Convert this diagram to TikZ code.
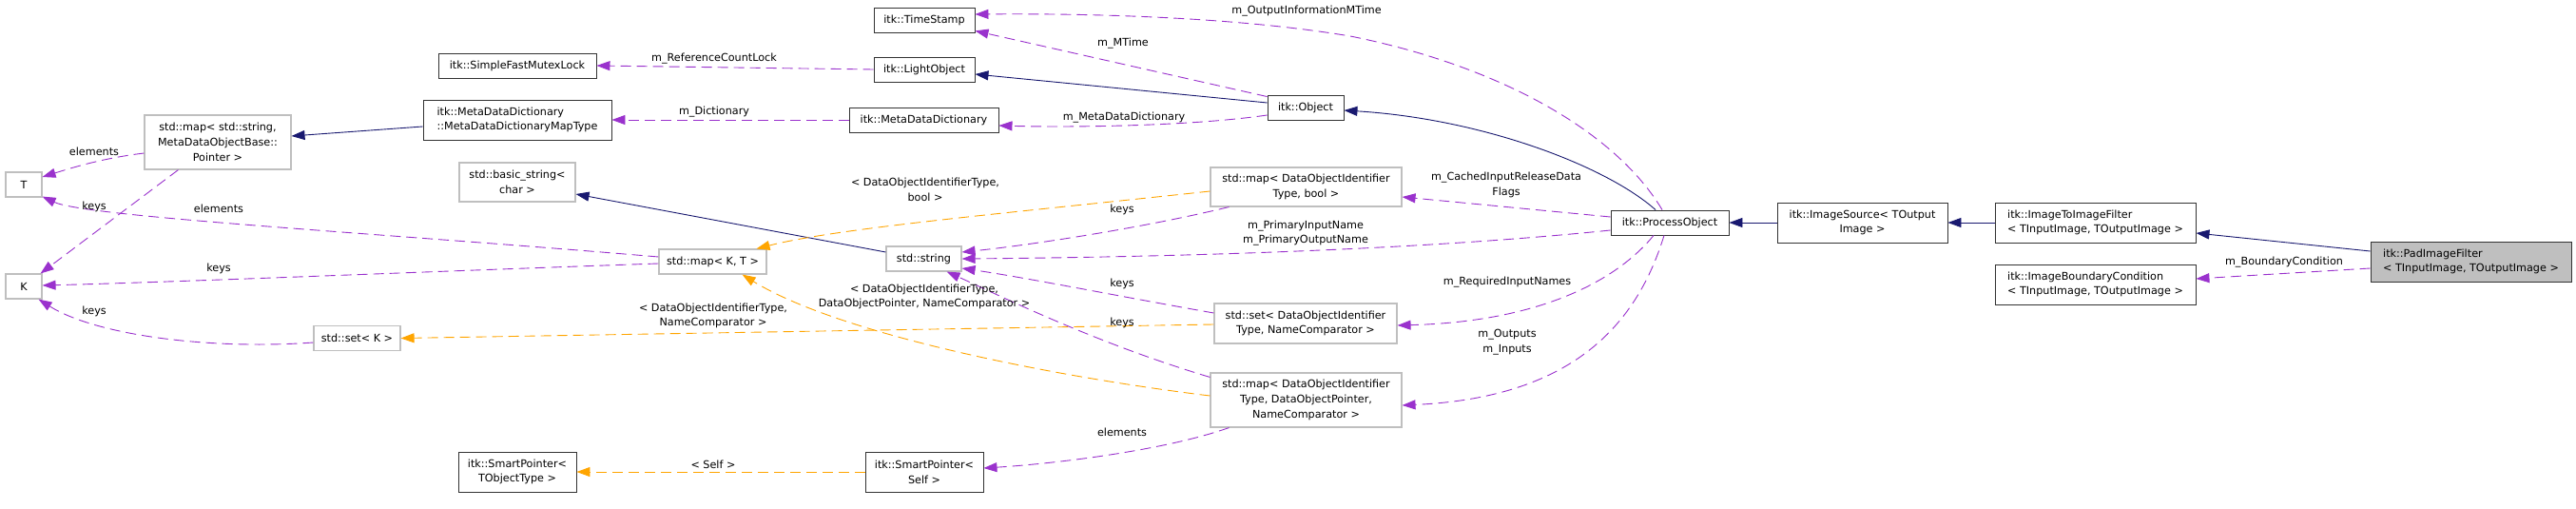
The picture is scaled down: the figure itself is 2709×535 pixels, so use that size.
\documentclass[tikz,border=0pt]{standalone}
\usepackage{fontspec}
\setmainfont{DejaVu Sans}
\usetikzlibrary{arrows.meta,calc}
\definecolor{navy}{HTML}{191970}
\definecolor{purp}{HTML}{9A32CD}
\definecolor{orng}{HTML}{FFA500}
\definecolor{lgray}{HTML}{BFBFBF}
\definecolor{fgray}{HTML}{BFBFBF}
\definecolor{bord}{HTML}{333333}
\begin{document}
\begin{tikzpicture}[x=1pt,y=-1pt,
  every node/.style={font=\fontsize{11.2}{15.7}\selectfont},
  cls/.style={draw=bord,line width=0.9pt,rectangle,inner sep=0pt,align=center},
  ext/.style={cls,draw=lgray,line width=1.1pt},
  lbl/.style={inner sep=0pt,align=center},
  tip/.style={-{Triangle[length=14pt,width=10pt]}},
  inh/.style={draw=navy,line width=0.9pt,tip},
  dep/.style={draw=purp,line width=0.9pt,dash pattern=on 11pt off 6pt,tip},
  tpl/.style={draw=orng,line width=0.9pt,dash pattern=on 11pt off 6pt,tip}
]
\useasboundingbox (0,0) rectangle (2709,535);
\fill[white] (0,0) rectangle (2709,535);

% nodes
\node[ext,minimum width=38,minimum height=26] (T) at (25,194) {T};
\node[ext,minimum width=38,minimum height=26] (K) at (25,301) {K};
\node[ext,minimum width=154,minimum height=57] (mapstr) at (229,149.5) {std::map< std::string,\\MetaDataObjectBase::\\Pointer >};
\node[ext,minimum width=91,minimum height=26] (setK) at (375.5,355.5) {std::set< K >};
\node[cls,minimum width=166,minimum height=26] (SFML) at (544,69) {itk::SimpleFastMutexLock};
\node[cls,minimum width=198,minimum height=42,align=left] (MDDMT) at (544,126) {itk::MetaDataDictionary\\::MetaDataDictionaryMapType};
\node[ext,minimum width=122,minimum height=41] (basicstr) at (544,191.5) {std::basic\_string<\\char >};
\node[ext,minimum width=113,minimum height=26] (mapKT) at (749.5,275) {std::map< K, T >};
\node[cls,minimum width=124,minimum height=42] (SPTOT) at (544,496) {itk::SmartPointer<\\TObjectType >};
\node[cls,minimum width=106,minimum height=26] (TS) at (972,21) {itk::TimeStamp};
\node[cls,minimum width=106,minimum height=26] (LO) at (972,73) {itk::LightObject};
\node[cls,minimum width=157,minimum height=26] (MDD) at (971.5,126) {itk::MetaDataDictionary};
\node[ext,minimum width=79,minimum height=26] (stdstring) at (971.5,272) {std::string};
\node[cls,minimum width=124,minimum height=42] (SPSelf) at (972,496) {itk::SmartPointer<\\Self >};
\node[ext,minimum width=201,minimum height=41] (mapbool) at (1373.5,196.5) {std::map< DataObjectIdentifier\\Type, bool >};
\node[ext,minimum width=192,minimum height=42] (setDOI) at (1373,340) {std::set< DataObjectIdentifier\\Type, NameComparator >};
\node[ext,minimum width=201,minimum height=57] (map3) at (1373.5,420.5) {std::map< DataObjectIdentifier\\Type, DataObjectPointer,\\NameComparator >};
\node[cls,minimum width=80,minimum height=26] (Obj) at (1373,113) {itk::Object};
\node[cls,minimum width=124,minimum height=26] (PO) at (1756,234) {itk::ProcessObject};
\node[cls,minimum width=179,minimum height=42] (IS) at (1958.5,234) {itk::ImageSource< TOutput\\Image >};
\node[cls,minimum width=211,minimum height=42,align=left] (ITIF) at (2203.5,234) {itk::ImageToImageFilter\\< TInputImage, TOutputImage >};
\node[cls,minimum width=211,minimum height=42,align=left] (IBC) at (2203.5,299) {itk::ImageBoundaryCondition\\< TInputImage, TOutputImage >};
\node[cls,fill=fgray,minimum width=211,minimum height=42,align=left] (PIF) at (2598.5,275) {itk::PadImageFilter\\< TInputImage, TOutputImage >};

% edges
\draw[dep] ($(mapstr.west)+(0,11.5)$) .. controls (110,166) and (80,175) .. ($(T.east)+(0,-8)$);
\draw[dep] ($(mapstr.south west)+(36,0)$) -- ($(K.north east)+(-2,0)$);
\draw[dep] ($(mapKT.west)+(0,-5)$) .. controls (400,245) and (90,228) .. ($(T.south east)+(0,-1)$);
\draw[dep] ($(mapKT.west)+(0,2)$) .. controls (460,285) and (200,296) .. ($(K.east)+(0,-1)$);
\draw[dep] ($(setK.west)+(0,4.5)$) .. controls (220,368) and (100,352) .. ($(K.south east)+(-4,0)$);
\draw[inh] ($(MDDMT.west)+(0,7)$) -- ($(mapstr.east)+(0,-6.5)$);
\draw[dep] (LO.west) -- (SFML.east);
\draw[dep] (MDD.west) -- (MDDMT.east);
\draw[inh] ($(stdstring.west)+(0,-7)$) -- ($(basicstr.east)+(0,12.5)$);
\draw[tpl] ($(mapbool.west)+(0,4.5)$) .. controls (1050,225) and (880,240) .. ($(mapKT.north east)+(-11,0)$);
\draw[tpl] ($(setDOI.west)+(0,1)$) -- (setK.east);
\draw[tpl] ($(map3.west)+(0,-4.5)$) .. controls (1100,395) and (880,350) .. ($(mapKT.south east)+(-26,0)$);
\draw[dep] ($(mapbool.south west)+(20,0)$) .. controls (1200,240) and (1080,258) .. ($(stdstring.east)+(0,-7)$);
\draw[dep] ($(PO.west)+(0,8)$) .. controls (1500,262) and (1250,270) .. (stdstring.east);
\draw[dep] ($(setDOI.west)+(0,-11)$) .. controls (1180,312) and (1080,292) .. ($(stdstring.east)+(0,10)$);
\draw[dep] ($(map3.north west)+(0,5)$) .. controls (1150,360) and (1050,310) .. ($(stdstring.south east)+(-16,0)$);
\draw[dep] ($(map3.south west)+(20,0)$) .. controls (1220,475) and (1100,488) .. ($(SPSelf.east)+(0,-4)$);
\draw[tpl] (SPSelf.west) -- (SPTOT.east);
\draw[dep] ($(Obj.north west)+(0,2)$) -- ($(TS.south east)+(0,-2)$);
\draw[inh] ($(Obj.west)+(0,-5)$) -- ($(LO.east)+(0,5)$);
\draw[dep] ($(Obj.west)+(0,8)$) .. controls (1250,133) and (1120,134) .. ($(MDD.east)+(0,6)$);
\draw[dep] ($(PO.north)+(-8,0)$) .. controls (1700,140) and (1580,70) .. (1420,38) .. controls (1300,18) and (1150,14) .. ($(TS.east)+(0,-6)$);
\draw[inh] ($(PO.north)+(-15,0)$) .. controls (1690,175) and (1560,125) .. ($(Obj.east)+(0,3)$);
\draw[dep] ($(PO.west)+(0,-6)$) -- ($(mapbool.east)+(0,10.5)$);
\draw[dep] ($(PO.south)+(-17,0)$) .. controls (1700,295) and (1620,338) .. ($(setDOI.east)+(0,2)$);
\draw[dep] ($(PO.south)+(-6,0)$) .. controls (1720,345) and (1650,418) .. ($(map3.east)+(0,5.5)$);
\draw[inh] (IS.west) -- (PO.east);
\draw[inh] (ITIF.west) -- (IS.east);
\draw[inh] ($(PIF.west)+(0,-11)$) -- ($(ITIF.east)+(0,11)$);
\draw[dep] ($(PIF.west)+(0,7)$) -- ($(IBC.east)+(0,-6)$);

% edge labels
\node[lbl] (l1) at (99,159) {elements};
\node[lbl] (l2) at (99,217) {keys};
\node[lbl] (l3) at (230,219) {elements};
\node[lbl] (l4) at (230,282) {keys};
\node[lbl] (l5) at (99,327) {keys};
\node[lbl] (l6) at (751,62) {m\_ReferenceCountLock};
\node[lbl] (l7) at (751,118) {m\_Dictionary};
\node[lbl] (l8) at (750,332) {< DataObjectIdentifierType,\\NameComparator >};
\node[lbl] (l9) at (750,488) {< Self >};
\node[lbl] (l10) at (973,199) {< DataObjectIdentifierType,\\bool >};
\node[lbl] (l11) at (1181,46) {m\_MTime};
\node[lbl] (l12) at (1182,124) {m\_MetaDataDictionary};
\node[lbl] (l13) at (1180,220) {keys};
\node[lbl] (l14) at (1180,298) {keys};
\node[lbl] (l15) at (1180,339) {keys};
\node[lbl] (l16) at (972,312) {< DataObjectIdentifierType,\\DataObjectPointer, NameComparator >};
\node[lbl] (l17) at (1180,454) {elements};
\node[lbl] (l18) at (1374,12) {m\_OutputInformationMTime};
\node[lbl] (l19) at (1584,194.5) {m\_CachedInputReleaseData\\Flags};
\node[lbl] (l20) at (1373,245) {m\_PrimaryInputName\\m\_PrimaryOutputName};
\node[lbl] (l21) at (1585,297) {m\_RequiredInputNames};
\node[lbl] (l22) at (1585,360) {m\_Outputs\\m\_Inputs};
\node[lbl] (l23) at (2402,276) {m\_BoundaryCondition};
\end{tikzpicture}
\end{document}
